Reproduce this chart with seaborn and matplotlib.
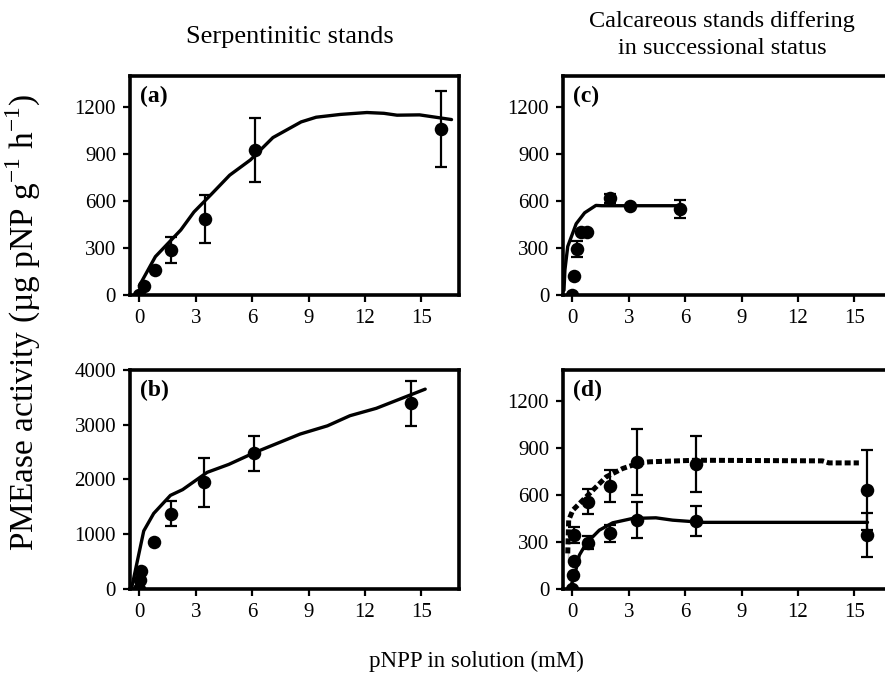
import seaborn as sns
import matplotlib.pyplot as plt

# (a) serpentinitic stand 1
a_x = [0, 0.23, 0.85, 1.66, 3.47, 6.16, 16.04]
a_y = [0, 57, 160, 287, 485, 925, 1060]
a_err = [0, 0, 0, 85, 152, 202, 241]
a_fit_x = [0, 0.85, 2.2, 2.9, 3.8, 4.8, 5.9, 7.1, 8.6, 9.4, 10.7, 12.1, 13.0, 13.7, 14.9, 16.6]
a_fit_y = [60, 245, 415, 530, 640, 765, 862, 1005, 1105, 1135, 1153, 1165, 1160, 1148, 1150, 1120]

# (b) serpentinitic stand 2
b_x = [0, 0.05, 0.1, 0.76, 1.7, 3.45, 6.12, 14.43]
b_y = [0, 170, 330, 860, 1376, 1951, 2479, 3388]
b_err = [0, 0, 0, 0, 225, 450, 318, 418]
b_fit_x = [-0.4, 0.23, 0.76, 1.65, 2.3, 3.6, 4.75, 6.15, 8.55, 10.0, 11.2, 12.6, 15.2]
b_fit_y = [40, 1060, 1380, 1710, 1815, 2130, 2275, 2495, 2830, 2980, 3165, 3300, 3650]

# (c) calcareous stand, early
c_x = [0, 0.1, 0.25, 0.45, 0.75, 2.0, 3.08, 5.72]
c_y = [0, 121, 293, 400, 405, 617, 570, 547]
c_err = [0, 0, 50, 0, 0, 30, 0, 58]
c_fit_x = [-0.45, -0.4, -0.25, 0.2, 0.65, 1.25, 1.55, 2.5, 4.0, 5.7]
c_fit_y = [30, 160, 310, 455, 525, 572, 570, 570, 570, 570]

# (d) calcareous stands, two successional stages
d1_x = [0, 0.05, 0.1, 0.81, 2.02, 3.42, 6.57, 15.68]
d1_y = [0, 89, 180, 296, 355, 440, 434, 345]
d1_err = [0, 0, 0, 40, 57, 117, 98, 140]
d1_fit_x = [-0.15, 0.1, 0.37, 0.73, 1.43, 2.14, 3.2, 4.44, 5.33, 6.92, 15.7]
d1_fit_y = [0, 79, 217, 291, 376, 423, 451, 455, 440, 426, 426]

d2_x = [0.1, 0.81, 2.02, 3.42, 6.57, 15.68]
d2_y = [345, 557, 659, 813, 798, 632]
d2_err = [50, 80, 100, 211, 181, 255]
d2_fit_x = [-0.25, -0.25, -0.2, 0.02, 0.73, 1.8, 2.67, 3.56, 4.1, 6.57, 13.3, 13.65, 15.24]
d2_fit_y = [185, 270, 440, 504, 589, 717, 770, 806, 813, 823, 819, 806, 806]

sns.set_style('white')
plt.rcParams['font.family'] = ['Liberation Serif', 'DejaVu Serif']
plt.rcParams['mathtext.fontset'] = 'custom'
plt.rcParams['mathtext.rm'] = 'Liberation Serif'
plt.rcParams['text.color'] = 'black'
plt.rcParams['xtick.color'] = 'black'
plt.rcParams['ytick.color'] = 'black'

fig = plt.figure(figsize=(8.85, 6.76), dpi=100)
ax_a = fig.add_axes([0.1469, 0.5636, 0.3718, 0.3244])
ax_b = fig.add_axes([0.1469, 0.1287, 0.3718, 0.3240])
ax_c = fig.add_axes([0.6362, 0.5636, 0.3638, 0.3244])
ax_d = fig.add_axes([0.6362, 0.1287, 0.3638, 0.3240])


def draw(ax, px, py, perr, fx, fy, ls='-', lw=2.4):
    sns.lineplot(x=fx, y=fy, ax=ax, color='black', lw=lw, linestyle=ls)
    ax.errorbar(px, py, yerr=perr, fmt='none', ecolor='black',
                elinewidth=1.6, capsize=4, capthick=1.6, zorder=3)
    sns.scatterplot(x=px, y=py, ax=ax, color='black', s=95,
                    edgecolor='black', linewidth=0, zorder=4)


draw(ax_a, a_x, a_y, a_err, a_fit_x, a_fit_y)
draw(ax_b, b_x, b_y, b_err, b_fit_x, b_fit_y)
draw(ax_c, c_x, c_y, c_err, c_fit_x, c_fit_y)
draw(ax_d, d2_x, d2_y, d2_err, d2_fit_x, d2_fit_y, ls=(0, (1.2, 0.6)), lw=3.6)
draw(ax_d, d1_x, d1_y, d1_err, d1_fit_x, d1_fit_y)

for ax, lab in [(ax_a, '(a)'), (ax_b, '(b)'), (ax_c, '(c)'), (ax_d, '(d)')]:
    if ax in (ax_c, ax_d):
        ax.set_xlim(-0.5, 16.63)
        ax.spines['right'].set_visible(False)
    else:
        ax.set_xlim(-0.5, 17)
    if ax is ax_b:
        ax.set_ylim(0, 4000)
        ax.set_yticks(range(0, 4001, 1000))
    else:
        ax.set_ylim(0, 1400)
        ax.set_yticks(range(0, 1201, 300))
    ax.set_xticks(range(0, 16, 3))
    for s in ax.spines.values():
        s.set_linewidth(2.6)
        s.set_color('black')
    ax.tick_params(direction='out', length=5, width=1.6, labelsize=15,
                   pad=5, bottom=True, left=True, colors='black')
    ax.set_xlabel('')
    ax.set_ylabel('')
    ax.text(0.03, 0.905, lab, transform=ax.transAxes, fontsize=17,
            fontweight='bold', ha='left', va='center', color='black')

fig.text(0.327, 0.945, 'Serpentinitic stands', fontsize=19, ha='center', va='center')
fig.text(0.816, 0.948, 'Calcareous stands differing\nin successional status',
         fontsize=17.5, ha='center', va='center', linespacing=1.35)
fig.text(0.538, 0.021, 'pNPP in solution (mM)', fontsize=16.5, ha='center', va='center')
fig.text(0.027, 0.522, r'PMEase activity (µg pNP g$^{\mathregular{-1}}$ h$^{\mathregular{-1}}$)',
         fontsize=24, rotation=90, ha='center', va='center')

fig.savefig('out.png', dpi=100)
